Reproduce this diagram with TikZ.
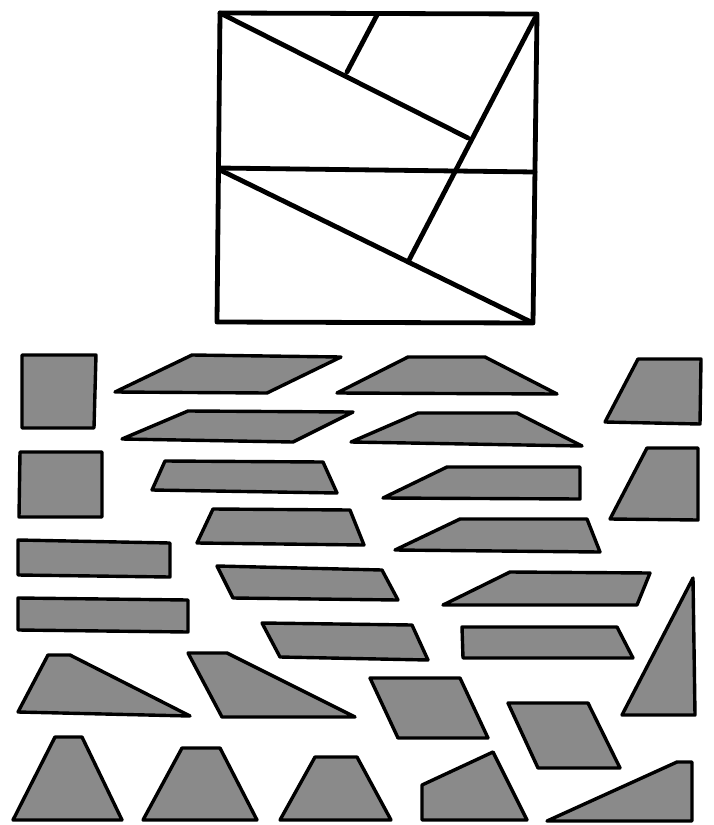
\documentclass[tikz,border=0pt]{standalone}
\definecolor{piece}{RGB}{138,138,138}
\tikzset{
  piecebox/.style={fill=piece, draw=black, line width=3.4pt, line join=round},
  frameline/.style={draw=black, line width=4.8pt, line cap=round, line join=round}
}
\begin{document}
\begin{tikzpicture}[x=1pt,y=-1pt]
\useasboundingbox (0,0) rectangle (714,825);
% top square dissection
\draw[frameline] (220,13) -- (537,14) -- (533,323) -- (217,322) -- cycle;
\draw[frameline] (220,13) -- (468,138);
\draw[frameline] (377,15) -- (347,72);
\draw[frameline] (535,18) -- (408,262);
\draw[frameline] (219,168) -- (535,172);
\draw[frameline] (220,170) -- (531,322);
% row 1
\draw[piecebox] (22,355) -- (96,355) -- (94,428) -- (22,428) -- cycle;
\draw[piecebox] (115,392) -- (192,355) -- (341,357) -- (267,393) -- cycle;
\draw[piecebox] (337,393) -- (408,357) -- (485,357) -- (557,394) -- cycle;
\draw[piecebox] (605,422) -- (638,359) -- (701,359) -- (700,424) -- cycle;
% row 2
\draw[piecebox] (122,439) -- (188,411) -- (353,412) -- (293,442) -- cycle;
\draw[piecebox] (351,442) -- (418,413) -- (517,413) -- (582,446) -- cycle;
% row 3
\draw[piecebox] (20,452) -- (102,452) -- (102,517) -- (19,517) -- cycle;
\draw[piecebox] (152,490) -- (165,461) -- (323,462) -- (337,493) -- cycle;
\draw[piecebox] (383,498) -- (447,467) -- (580,467) -- (580,499) -- cycle;
\draw[piecebox] (610,519) -- (647,448) -- (698,448) -- (698,520) -- cycle;
% row 4
\draw[piecebox] (197,543) -- (213,509) -- (350,510) -- (364,545) -- cycle;
\draw[piecebox] (395,550) -- (460,519) -- (587,519) -- (600,552) -- cycle;
\draw[piecebox] (18,540) -- (170,543) -- (170,577) -- (18,575) -- cycle;
% row 5
\draw[piecebox] (217,566) -- (382,570) -- (398,600) -- (233,598) -- cycle;
\draw[piecebox] (443,605) -- (510,572) -- (650,573) -- (637,605) -- cycle;
\draw[piecebox] (18,598) -- (188,600) -- (188,632) -- (18,630) -- cycle;
% row 6
\draw[piecebox] (262,623) -- (412,625) -- (428,660) -- (280,657) -- cycle;
\draw[piecebox] (462,627) -- (617,627) -- (633,658) -- (463,658) -- cycle;
\draw[piecebox] (693,578) -- (695,715) -- (622,715) -- cycle;
% row 7
\draw[piecebox] (48,655) -- (70,655) -- (190,716) -- (18,712) -- cycle;
\draw[piecebox] (188,653) -- (227,653) -- (355,717) -- (222,717) -- cycle;
\draw[piecebox] (370,678) -- (460,678) -- (488,738) -- (398,738) -- cycle;
\draw[piecebox] (508,703) -- (588,703) -- (620,768) -- (538,768) -- cycle;
% row 8
\draw[piecebox] (55,737) -- (82,737) -- (122,820) -- (13,820) -- cycle;
\draw[piecebox] (182,748) -- (220,748) -- (257,820) -- (143,820) -- cycle;
\draw[piecebox] (315,757) -- (357,757) -- (391,820) -- (280,820) -- cycle;
\draw[piecebox] (422,785) -- (493,752) -- (527,820) -- (422,820) -- cycle;
\draw[piecebox] (547,821) -- (677,762) -- (692,762) -- (692,821) -- cycle;
\end{tikzpicture}
\end{document}
